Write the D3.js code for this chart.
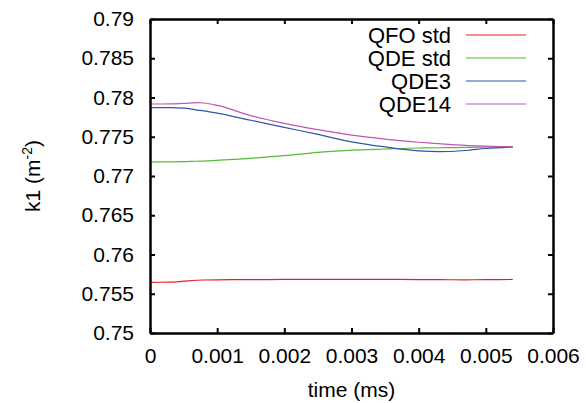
<!DOCTYPE html>
<html>
<head>
<meta charset="utf-8">
<script src="https://cdn.jsdelivr.net/npm/d3@7"></script>
<style>
  body { margin: 0; background: #fff; }
  text { font-family: "Liberation Sans", Arial, sans-serif; fill: #000; }
</style>
</head>
<body>
<div class="chart"></div>
<script>
const width = 586
const height = 403

// time in ms
const time = [0, 0.0003, 0.0005, 0.0007, 0.0008, 0.001, 0.0015, 0.002, 0.0025, 0.003, 0.0035, 0.004, 0.0043, 0.0047, 0.005, 0.0054]

const qfoStd = [0.75646, 0.75648, 0.7566, 0.75672, 0.75675, 0.75678, 0.7568, 0.75682, 0.75683, 0.75683, 0.75683, 0.75681, 0.75679, 0.75678, 0.7568, 0.75682]
const qdeStd = [0.77178, 0.7718, 0.77182, 0.77188, 0.7719, 0.772, 0.77225, 0.77259, 0.773, 0.7733, 0.77344, 0.77357, 0.7736, 0.77365, 0.77368, 0.7737]
const qde3 = [0.7787, 0.7787, 0.77865, 0.7784, 0.7783, 0.778, 0.7771, 0.7762, 0.7753, 0.77435, 0.7737, 0.7732, 0.7731, 0.77325, 0.7735, 0.7737]
const qde14 = [0.77917, 0.7792, 0.77926, 0.77934, 0.7793, 0.779, 0.7777, 0.7767, 0.7759, 0.7752, 0.7747, 0.7743, 0.77412, 0.7739, 0.7738, 0.7737]

const seriesNames = ['QFO std', 'QDE std', 'QDE3', 'QDE14']
const seriesColors = ['#ee1c24', '#55bb33', '#3355a8', '#c455b4']
const seriesValues = [qfoStd, qdeStd, qde3, qde14]

const xTicks = [0, 0.001, 0.002, 0.003, 0.004, 0.005, 0.006]
const yTicks = [0.75, 0.755, 0.76, 0.765, 0.77, 0.775, 0.78, 0.785, 0.79]

const margin = {left: 150, right: 33, top: 19, bottom: 70}
const fontSize = '21px'

let svg = d3.select('.chart').append('svg')
.attr('width', width)
.attr('height', height)

let x = d3.scaleLinear()
.domain([0, 0.006])
.range([margin.left, width - margin.right])

let y = d3.scaleLinear()
.domain([0.75, 0.79])
.range([height - margin.bottom, margin.top])

const tickFmt = d => d === 0 ? '0' : String(+d.toFixed(4))

// lines
let line = d3.line()
.x(d => x(d[0]))
.y(d => y(d[1]))
.curve(d3.curveMonotoneX)

seriesValues.forEach((vals, i) => {
	svg.append('path')
	.datum(time.map((t, j) => [t, vals[j]]))
	.attr('d', line)
	.attr('fill', 'none')
	.attr('stroke', seriesColors[i])
	.attr('stroke-width', 1.2)
})

// axes, ticks pointing inward and mirrored
let bottomAxis = svg.append('g')
.attr('transform', `translate(0,${y(0.75)})`)
.call(d3.axisBottom(x).tickValues(xTicks).tickSizeInner(-5).tickSizeOuter(0).tickPadding(15).tickFormat(tickFmt))

let topAxis = svg.append('g')
.attr('transform', `translate(0,${y(0.79)})`)
.call(d3.axisTop(x).tickValues(xTicks).tickSizeInner(-5).tickSizeOuter(0).tickFormat(''))

let leftAxis = svg.append('g')
.attr('transform', `translate(${x(0)},0)`)
.call(d3.axisLeft(y).tickValues(yTicks).tickSizeInner(-5).tickSizeOuter(0).tickPadding(16).tickFormat(tickFmt))

let rightAxis = svg.append('g')
.attr('transform', `translate(${x(0.006)},0)`)
.call(d3.axisRight(y).tickValues(yTicks).tickSizeInner(-5).tickSizeOuter(0).tickFormat(''))

svg.selectAll('.domain').attr('stroke', '#000').attr('stroke-width', 2.5)
svg.selectAll('.tick line').attr('stroke', '#000').attr('stroke-width', 2)
svg.selectAll('.tick text')
.style('font-size', fontSize)
.style('font-family', '"Liberation Sans", Arial, sans-serif')
.attr('fill', '#000')

// axis labels
svg.append('text')
.attr('x', x(0.003))
.attr('y', 397)
.attr('text-anchor', 'middle')
.style('font-size', fontSize)
.text('time (ms)')

let ylab = svg.append('text')
.attr('transform', `translate(40,${(y(0.75) + y(0.79)) / 2}) rotate(-90)`)
.attr('text-anchor', 'middle')
.style('font-size', fontSize)
ylab.append('tspan').text('k1 (m')
ylab.append('tspan').attr('dy', -8).style('font-size', '14px').text('-2')
ylab.append('tspan').attr('dy', 8).text(')')

// legend
let legend = svg.append('g')
seriesNames.forEach((name, i) => {
	let ly = 35 + i * 23
	legend.append('text')
	.attr('x', 451)
	.attr('y', ly + 7.5)
	.attr('text-anchor', 'end')
	.style('font-size', '22px')
	.text(name)
	legend.append('line')
	.attr('x1', 466).attr('x2', 526)
	.attr('y1', ly).attr('y2', ly)
	.attr('stroke', seriesColors[i])
	.attr('stroke-width', 1.2)
})
</script>
</body>
</html>
